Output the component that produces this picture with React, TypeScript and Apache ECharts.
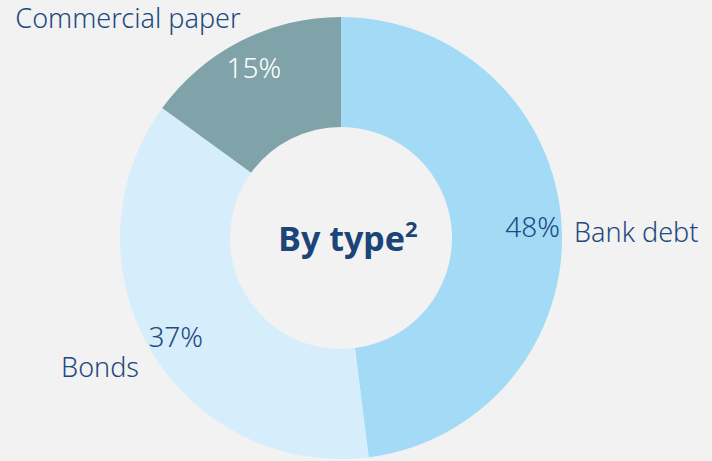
import React, { useEffect, useRef } from "react";
import * as echarts from "echarts";

const categories = ["Bank debt", "Bonds", "Commercial paper"];
const shares = [48, 37, 15];
const sliceColors = ["#a3dbf7", "#d6edfb", "#7fa3a8"];
const percentColors = ["#1f4a7e", "#1f4a7e", "#ffffff"];
const centerTitle = "By type";
const centerSup = "2";

// label anchor positions (layout, not data)
const nameLayout = [
  { x: 574, y: 231, align: "left" },
  { x: 139, y: 366, align: "right" },
  { x: 128, y: 17, align: "center" },
];

export default function App() {
  const ref = useRef<HTMLDivElement>(null);
  useEffect(() => {
    const chart = echarts.init(ref.current!, null, { renderer: "svg" });
    const data = categories.map((c, i) => ({ name: c, value: shares[i] }));
    const font = "'Noto Sans', sans-serif";
    chart.setOption({
      animation: false,
      backgroundColor: "#f2f2f2",
      title: {
        text: `{a|${centerTitle}}{b|${centerSup}}`,
        left: 343,
        top: 233,
        textAlign: "center",
        textVerticalAlign: "middle",
        textStyle: {
          rich: {
            a: { fontFamily: font, fontWeight: "bold", fontSize: 34, color: "#1b4478", lineHeight: 42 },
            b: { fontFamily: font, fontWeight: "bold", fontSize: 22, color: "#1b4478", verticalAlign: "top", lineHeight: 24 },
          },
        },
      },
      series: [
        {
          type: "pie",
          center: [341, 238],
          radius: [111, 221],
          startAngle: 90,
          clockwise: true,
          silent: true,
          data: data.map((d, i) => ({ ...d, itemStyle: { color: sliceColors[i] } })),
          label: {
            show: true,
            position: "outside",
            formatter: "{b}",
            fontFamily: font,
            fontWeight: 300,
            fontSize: 27,
            color: "#1f4a80",
            overflow: "none",
            width: 300,
          },
          labelLine: { show: false },
          labelLayout: (p: any) => {
            const l = nameLayout[p.dataIndex];
            return { x: l.x, y: l.y, align: l.align, verticalAlign: "middle" };
          },
        },
        {
          type: "pie",
          center: [341, 238],
          radius: [150, 228],
          startAngle: 90,
          clockwise: true,
          silent: true,
          z: 5,
          itemStyle: { color: "transparent" },
          data: data.map((d, i) => ({
            ...d,
            label: { color: percentColors[i] },
          })),
          label: {
            show: true,
            position: "inside",
            formatter: "{c}%",
            fontFamily: font,
            fontWeight: 300,
            fontSize: 28,
          },
          labelLine: { show: false },
        },
      ],
    });
    return () => chart.dispose();
  }, []);
  return (
    <div
      ref={ref}
      style={{ position: "fixed", left: 0, top: 0, width: 712, height: 461 }}
    />
  );
}
